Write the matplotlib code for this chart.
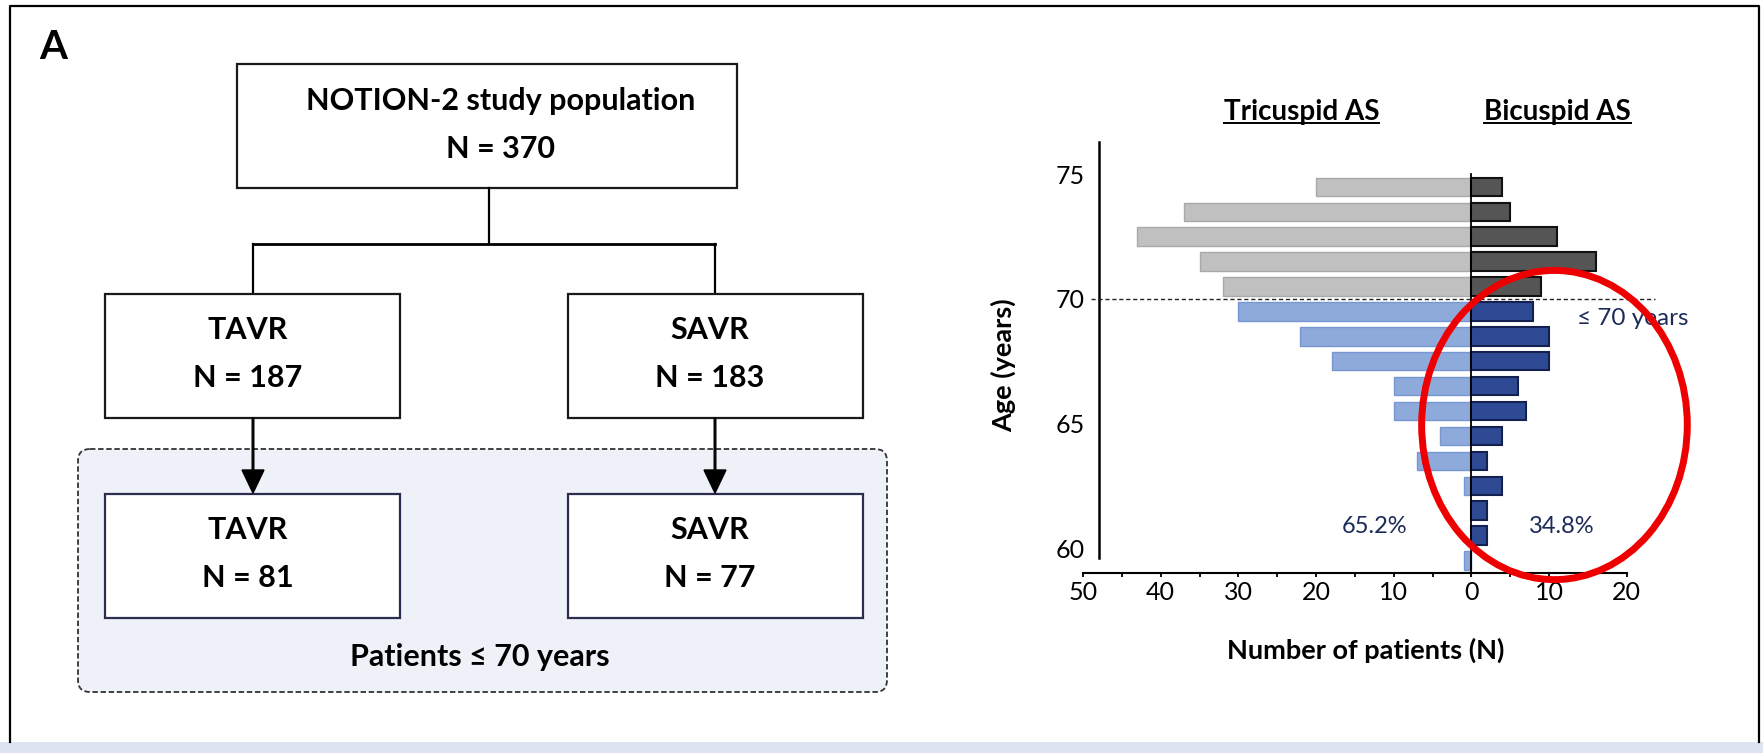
"""NOTION-2 flow chart and age pyramid (tricuspid vs bicuspid AS)."""
import matplotlib
matplotlib.use('Agg')
import matplotlib.pyplot as plt
from matplotlib.patches import Rectangle, FancyBboxPatch, Ellipse

plt.rcParams['font.family'] = ['Lato', 'DejaVu Sans']

# ---- data -------------------------------------------------------------
# centre of each 1-year age bin, oldest first
ages = [74.5, 73.5, 72.5, 71.5, 70.5, 69.5, 68.5, 67.5,
        66.5, 65.5, 64.5, 63.5, 62.5, 61.5, 60.5, 59.5]
tricuspid = [20, 37, 43, 35, 32, 30, 22, 18, 10, 10, 4, 7, 1, 0, 0, 1]
bicuspid = [4, 5, 11, 16, 9, 8, 10, 10, 6, 7, 4, 2, 4, 2, 2, 0]
age_cutoff = 70

x_ticks = [-50, -40, -30, -20, -10, 0, 10, 20]
y_ticks = [60, 65, 70, 75]

study_label = 'NOTION-2 study population'
study_n = 370
arms = ['TAVR', 'SAVR']
arm_n = [187, 183]
young_n = [81, 77]
subgroup_label = 'Patients \u2264 70 years'

# ---- colours ----------------------------------------------------------
GRAY_LIGHT, GRAY_LIGHT_EDGE = '#c0c0c0', '#a9a9a9'
GRAY_DARK, GRAY_DARK_EDGE = '#555555', '#111111'
BLUE_LIGHT, BLUE_LIGHT_EDGE = '#8eaadb', '#7896d2'
NAVY, NAVY_EDGE = '#2e4a94', '#14214f'
TEXT_NAVY = '#1c2a5a'

FLOW_FS = 22

fig = plt.figure(figsize=(17.63, 7.53), dpi=100)

# ---- flow chart, drawn in pixel units on a full-figure axes -----------
ax0 = fig.add_axes([0, 0, 1, 1])
ax0.set_xlim(0, 1763)
ax0.set_ylim(753, 0)
ax0.axis('off')

# frame and bottom band
ax0.add_patch(Rectangle((0, 742), 1763, 11, color='#dde3f1', lw=0))
ax0.plot([10, 10, 1759, 1759], [742, 6, 6, 742], color='black', lw=1.6)
ax0.text(53, 47, 'A', fontsize=29, fontweight='bold', ha='center', va='center')

# dashed subgroup panel
ax0.add_patch(FancyBboxPatch((78, 449), 809, 243,
                             boxstyle='round,pad=0,rounding_size=12',
                             fc='#eef1f8', ec='#333333', lw=1.3,
                             ls=(0, (3, 1.5))))


def box(x0, y0, w, h, lines, ys, ec='#1a1a1a', xc=None):
    ax0.add_patch(Rectangle((x0, y0), w, h, fc='white', ec=ec, lw=1.6, zorder=2))
    if xc is None:
        xc = x0 + w / 2
    for txt, y in zip(lines, ys):
        ax0.text(xc, y, txt, fontsize=FLOW_FS, fontweight='bold',
                 ha='center', va='center', zorder=3)


box(237, 64, 500, 124, [study_label, f'N = {study_n}'], [101, 149], xc=501)

arm_x = [253, 715]
ax0.plot([489, 489], [188, 244], color='black', lw=1.6)
ax0.plot([arm_x[0], arm_x[1]], [244, 244], color='black', lw=2)
for i, (arm, n, yn) in enumerate(zip(arms, arm_n, young_n)):
    left = [105, 568][i]
    ax0.plot([arm_x[i], arm_x[i]], [244, 294], color='black', lw=1.6)
    box(left, 294, 295, 124, [arm, f'N = {n}'], [330, 378], xc=arm_x[i] - 5)
    ax0.arrow(arm_x[i], 418, 0, 75, width=1.6, head_width=22, head_length=23,
              length_includes_head=True, color='black', zorder=3)
    box(left, 494, 295, 124, [arm, f'N = {yn}'], [530, 578],
        ec='#2a2d4f', xc=arm_x[i] - 5)

ax0.text(480, 657, subgroup_label, fontsize=FLOW_FS, fontweight='bold',
         ha='center', va='center')

# ---- age pyramid ------------------------------------------------------
ax = fig.add_axes([1083 / 1763, 1 - 573 / 753, 543.7 / 1763, 431 / 753])
ax.patch.set_alpha(0)

young = [a < age_cutoff for a in ages]
tri_colors = [BLUE_LIGHT if y else GRAY_LIGHT for y in young]
tri_edges = [BLUE_LIGHT_EDGE if y else GRAY_LIGHT_EDGE for y in young]
bic_colors = [NAVY if y else GRAY_DARK for y in young]
bic_edges = [NAVY_EDGE if y else GRAY_DARK_EDGE for y in young]

ax.barh(ages, [-v for v in tricuspid], height=0.74, color=tri_colors,
        edgecolor=tri_edges, linewidth=1.0, zorder=2)
ax.barh(ages, bicuspid, height=0.74, color=bic_colors,
        edgecolor=bic_edges, linewidth=1.5, zorder=2)
ax.plot([0, 0], [59, 75], color='black', lw=1.3, zorder=3)
ax.plot([-49, 23.7], [age_cutoff, age_cutoff], color='#222222', lw=1.0,
        ls=(0, (3, 2)), clip_on=False, zorder=3)

ax.set_xlim(-50, 20)
ax.set_ylim(59, 76.3)

for s in ['top', 'right']:
    ax.spines[s].set_visible(False)
ax.spines['left'].set_position(('data', -48))
ax.spines['left'].set_bounds(59.6, 76.3)
ax.spines['left'].set_linewidth(1.8)
ax.spines['bottom'].set_linewidth(1.5)

ax.set_xticks(x_ticks)
ax.set_xticklabels([str(abs(v)) for v in x_ticks])
ax.set_xticks(range(-45, 20, 10), minor=True)
ax.tick_params(axis='x', which='both', length=3, width=1.3, labelsize=18, pad=3)
ax.set_yticks(y_ticks)
ax.tick_params(axis='y', length=0, labelsize=18, pad=10)

ax.set_xlabel('Number of patients (N)', fontsize=19.5, fontweight='bold',
              va='center')
ax.xaxis.set_label_coords(0.52, -0.179)
ax.set_ylabel('Age (years)', fontsize=19.5, fontweight='bold', va='center')
ax.yaxis.set_label_coords(-0.147, 0.483)

# share of young patients per valve type
tri_young = sum(v for v, y in zip(tricuspid, young) if y)
bic_young = sum(v for v, y in zip(bicuspid, young) if y)
tot_young = tri_young + bic_young
ax.text(-12.4, 60.85, f'{100 * tri_young / tot_young:.1f}%', fontsize=17,
        color=TEXT_NAVY, ha='center', va='center')
ax.text(11.7, 60.85, f'{100 * bic_young / tot_young:.1f}%', fontsize=17,
        color=TEXT_NAVY, ha='center', va='center')
ax.text(13.6, 69.22, '\u2264 70 years', fontsize=17.5, color=TEXT_NAVY,
        ha='left', va='center', clip_on=False)

headers = [ax.text(-21.9, 77.2, 'Tricuspid AS', fontsize=20, fontweight='bold',
                   ha='center', va='baseline'),
           ax.text(11.06, 77.2, 'Bicuspid AS', fontsize=20, fontweight='bold',
                   ha='center', va='baseline')]

ax.add_patch(Ellipse((10.7, 64.94), 34.2, 12.41, fill=False, ec='#ee0000',
                     lw=5, clip_on=False, zorder=10))

# underline the column headers
fig.canvas.draw()
inv = ax.transData.inverted()
for t in headers:
    bb = t.get_window_extent()
    x0 = inv.transform((bb.x0, bb.y0))[0]
    x1 = inv.transform((bb.x1, bb.y0))[0]
    ax.plot([x0, x1], [77.05, 77.05], color='black', lw=1.4, clip_on=False)

fig.savefig('out.png', dpi=100)
